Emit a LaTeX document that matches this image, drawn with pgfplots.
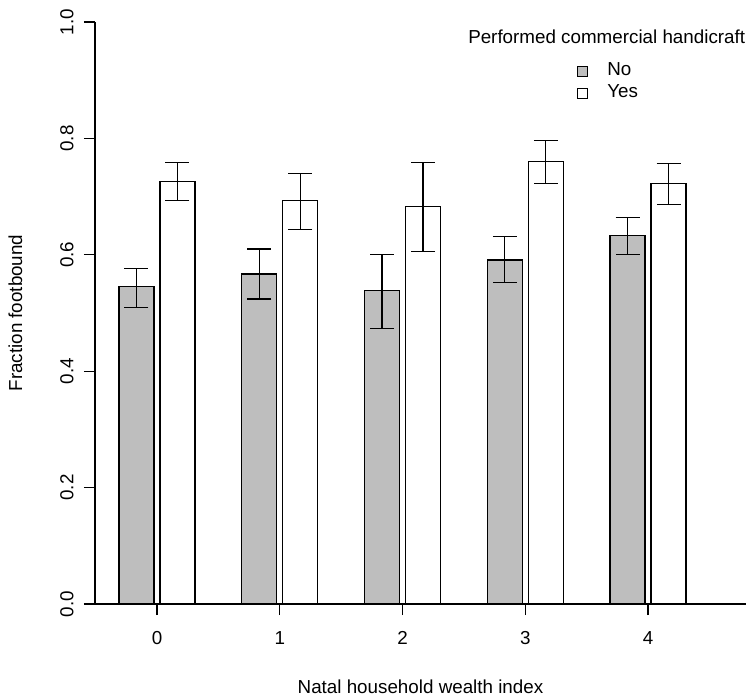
\documentclass[border=0pt]{standalone}
\usepackage{pgfplots}
\pgfplotsset{compat=1.18}
\usepackage{pgfplotstable}
\usepackage{fontspec}
\setmainfont{Liberation Sans}

% wealth index, fraction footbound, error up, error down
\pgfplotstableread{
x y ep em
0 0.546 0.031 0.036
1 0.567 0.043 0.043
2 0.538 0.063 0.064
3 0.591 0.040 0.039
4 0.633 0.031 0.032
}\nodata
\pgfplotstableread{
x y ep em
0 0.726 0.032 0.033
1 0.694 0.046 0.050
2 0.683 0.075 0.078
3 0.761 0.035 0.038
4 0.722 0.035 0.035
}\yesdata

\definecolor{rgray}{RGB}{190,190,190}

\begin{document}
\begin{tikzpicture}[font=\fontsize{18.8}{22}\selectfont]
\begin{axis}[
  scale only axis,
  width=651pt, height=582pt,
  xmin=-0.505, xmax=4.798,
  ymin=0, ymax=1,
  axis lines*=left,
  axis line style={line width=1.1pt, black},
  ybar=6pt, bar width=35pt,
  xtick={0,1,2,3,4},
  ytick={0,0.2,0.4,0.6,0.8,1},
  tick align=outside,
  major tick length=11pt,
  tick style={line width=1.1pt, black},
  tick label style={font=\fontsize{18.8}{22}\selectfont},
  /pgf/number format/assume math mode=true,
  xticklabel style={yshift=-13pt},
  yticklabel style={xshift=-7pt, rotate=90, anchor=south,
    /pgf/number format/.cd, fixed, fixed zerofill, precision=1},
  xlabel={Natal household wealth index},
  ylabel={Fraction footbound},
  xlabel style={at={(axis description cs:0.5,0)}, anchor=base, yshift=-89pt},
  ylabel style={at={(axis description cs:-0.1121,0.5)}, anchor=base},
  legend style={at={(rel axis cs:0.7354,0.9386)}, anchor=north west,
    draw=none, fill=none, font=\fontsize{18.8}{22}\selectfont,
    row sep=0pt,
    nodes={inner sep=2pt, text height=14pt, text depth=4pt}},
  legend cell align=left,
  legend image code/.code={\path[draw=none, fill=none] (28pt,0pt) circle (0pt);
    \draw[#1, line width=0.8pt] (0pt,-5pt) rectangle (10pt,5pt);},
  error bars/y dir=both, error bars/y explicit,
  error bars/error bar style={line width=1.1pt, black},
  error bars/error mark options={rotate=90, line width=1.1pt, black, mark size=12pt},
]
\addplot[fill=rgray, draw=black, line width=1.1pt]
  table[x=x, y=y, y error plus=ep, y error minus=em] {\nodata};
\addplot[fill=white, draw=black, line width=1.1pt]
  table[x=x, y=y, y error plus=ep, y error minus=em] {\yesdata};
\legend{No, Yes}
\draw[line width=1.1pt] (rel axis cs:0,0) -- ++(-13pt,0pt);
\node[anchor=center] at (rel axis cs:0.786,0.974) {Performed commercial handicraft};
\end{axis}
\pgfresetboundingbox
\path[use as bounding box] (-95pt,-92pt) rectangle (651pt,604pt);
\end{tikzpicture}
\end{document}
